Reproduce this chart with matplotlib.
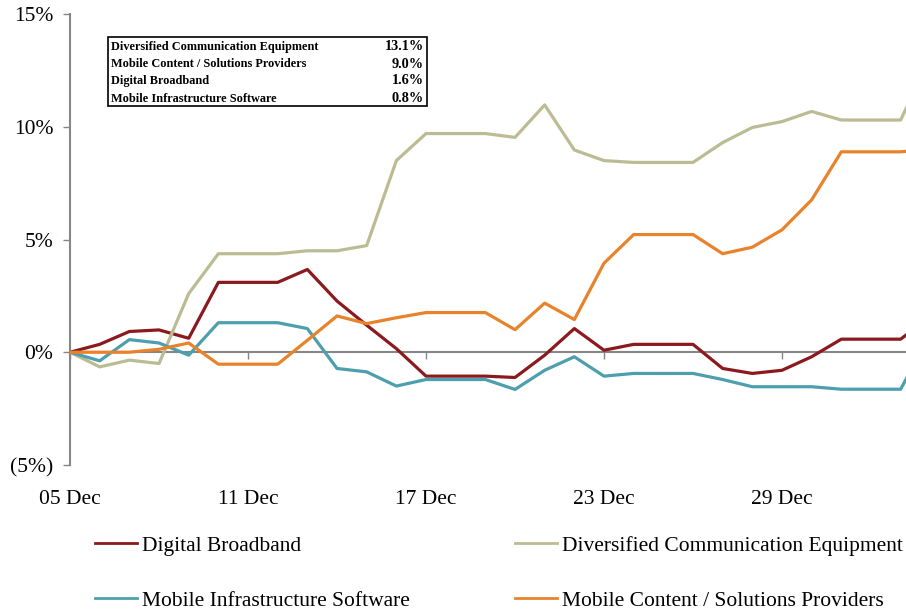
import numpy as np
import matplotlib
matplotlib.use("Agg")
import matplotlib.pyplot as plt
from matplotlib.patches import Rectangle

plt.rcParams['font.family'] = ['Liberation Serif', 'DejaVu Serif']

# daily observations starting 05 Dec
days = np.arange(30)
tick_days = [0, 6, 12, 18, 24]
tick_labels = ["05 Dec", "11 Dec", "17 Dec", "23 Dec", "29 Dec"]

digital_broadband = [0, 0.35, 0.92, 0.99, 0.62, 3.1, 3.1, 3.1, 3.67, 2.27,
                     1.2, 0.16, -1.06, -1.06, -1.06, -1.12, -0.13, 1.05, 0.09, 0.35,
                     0.35, 0.35, -0.72, -0.94, -0.8, -0.2, 0.58, 0.58, 0.58, 1.6]
diversified = [0, -0.65, -0.35, -0.5, 2.6, 4.37, 4.37, 4.37, 4.5, 4.5,
               4.73, 8.5, 9.7, 9.7, 9.7, 9.53, 10.97, 8.97, 8.5, 8.42,
               8.42, 8.42, 9.3, 9.97, 10.23, 10.68, 10.3, 10.3, 10.3, 13.1]
mobile_infra = [0, -0.38, 0.56, 0.41, -0.13, 1.31, 1.31, 1.31, 1.05, -0.72,
                -0.87, -1.5, -1.21, -1.21, -1.21, -1.65, -0.8, -0.2, -1.06, -0.94,
                -0.94, -0.94, -1.21, -1.53, -1.53, -1.53, -1.64, -1.64, -1.64, 0.8]
mobile_content = [0, 0, 0, 0.13, 0.41, -0.53, -0.53, -0.53, 0.53, 1.61,
                  1.27, 1.53, 1.76, 1.76, 1.76, 1.0, 2.18, 1.45, 3.95, 5.22,
                  5.22, 5.22, 4.37, 4.66, 5.43, 6.76, 8.89, 8.89, 8.89, 9.0]

table_names = ["Diversified Communication Equipment", "Mobile Content / Solutions Providers",
               "Digital Broadband", "Mobile Infrastructure Software"]
table_values = ["13.1%", "9.0%", "1.6%", "0.8%"]

c_db = "#8b1a1e"
c_dce = "#bcbc94"
c_mi = "#4d9fae"
c_mc = "#e8832b"
gray = "#868686"

fig = plt.figure(figsize=(9.06, 6.11), dpi=100)
ax = fig.add_axes([0.0773, 0.239, 1 - 0.0773, 0.738])

lw = 2.3
l_db, = ax.plot(days, digital_broadband, color=c_db, lw=lw, zorder=3, label="Digital Broadband")
l_dce, = ax.plot(days, diversified, color=c_dce, lw=lw, zorder=3, label="Diversified Communication Equipment")
l_mi, = ax.plot(days, mobile_infra, color=c_mi, lw=lw, zorder=3, label="Mobile Infrastructure Software")
l_mc, = ax.plot(days, mobile_content, color=c_mc, lw=lw, zorder=3, label="Mobile Content / Solutions Providers")

ax.set_xlim(0, 28.18)
ax.set_ylim(-5, 15)

for s in ["top", "right"]:
    ax.spines[s].set_visible(False)
ax.spines["left"].set_color(gray)
ax.spines["left"].set_linewidth(1.5)
ax.spines["bottom"].set_position(("data", 0))
ax.spines["bottom"].set_color(gray)
ax.spines["bottom"].set_linewidth(1.5)

ax.set_yticks([-5, 0, 5, 10, 15])
ax.set_yticklabels(["(5%)", "0%", "5%", "10%", "15%"])
ax.set_xticks(tick_days)
ax.set_xticklabels(tick_labels)
ax.tick_params(axis="y", direction="out", length=5, width=1, color=gray, labelsize=15.5, pad=7)
ax.tick_params(axis="x", direction="out", length=5, width=1, color=gray, labelsize=15.5, pad=94)

# summary box
fig.add_artist(Rectangle((108 / 906, 1 - 106 / 611), (427 - 108) / 906, (106 - 37) / 611,
                         transform=fig.transFigure, fill=False, edgecolor="black", lw=1.2))
row_y = [47, 64, 81, 99]
for name, val, y in zip(table_names, table_values, row_y):
    fig.text(111 / 906, 1 - y / 611, name, fontsize=8.8, fontweight="bold", va="center", ha="left")
    fig.text(424 / 906, 1 - y / 611, val, fontsize=10.3, fontweight="bold", va="center", ha="right")

leg_kw = dict(loc="center left", frameon=False, fontsize=15.5, handlelength=1.95,
              handletextpad=0.25, labelspacing=1.62, borderpad=0, borderaxespad=0)
leg1 = fig.legend(handles=[l_db, l_mi], bbox_to_anchor=(95 / 906, 1 - 573 / 611), **leg_kw)
leg2 = fig.legend(handles=[l_dce, l_mc], bbox_to_anchor=(515 / 906, 1 - 573 / 611), **leg_kw)
for leg in (leg1, leg2):
    for h in leg.legend_handles:
        h.set_linewidth(2.0)

fig.savefig("out.png", dpi=100)
